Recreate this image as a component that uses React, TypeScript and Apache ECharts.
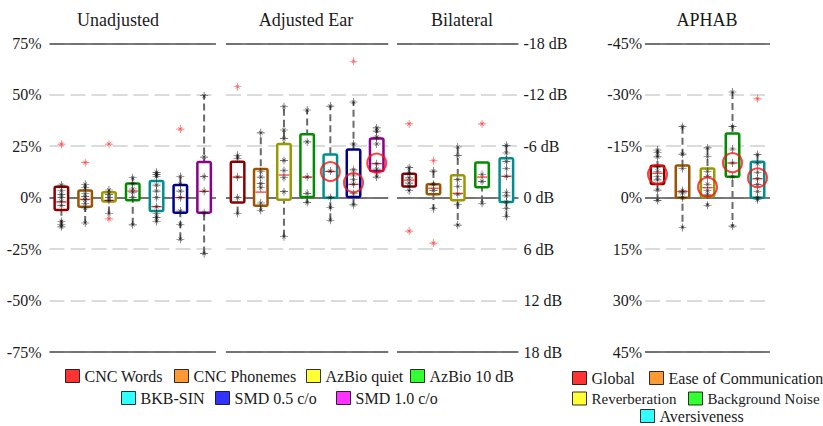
import React, { useEffect, useRef } from 'react';
import * as echarts from 'echarts';

const FONT = 'Liberation Serif';

// ---------- categories ----------
const speechNames = ['CNC Words', 'CNC Phonemes', 'AzBio quiet', 'AzBio 10 dB', 'BKB-SIN', 'SMD 0.5 c/o', 'SMD 1.0 c/o'];
const bilateralNames = ['CNC Words', 'CNC Phonemes', 'AzBio quiet', 'AzBio 10 dB', 'BKB-SIN'];
const aphabNames = ['Global', 'Ease of Communication', 'Reverberation', 'Background Noise', 'Aversiveness'];
const panelTitles = ['Unadjusted', 'Adjusted Ear', 'Bilateral', 'APHAB'];

const legendColors = ['#ff0000', '#ff8000', '#ffff00', '#00ff00', '#00ffff', '#0000ff', '#ff00ff'];
const boxColors = ['#8e0000', '#9c5400', '#999900', '#008c00', '#008f8f', '#00008c', '#8c008c'];

// ---------- axis ranges ----------
const pctMin = -75, pctMax = 75, pctStep = 25;
const dbMin = -18, dbMax = 18, dbStep = 6;
const aphabMin = -45, aphabMax = 45, aphabStep = 15;

// ---------- Unadjusted (% change) : [min, q1, median, q3, max] ----------
const unadjStats = [
  [-14.2, -6, -2.1, 5.3, 6.1],
  [-12.3, -4.4, -0.8, 3.5, 6.5],
  [-7.7, -1.9, -1.3, 2.6, 3.7],
  [-13.2, -1.3, 3.2, 6.9, 9.7],
  [-11.6, -6.5, -4.4, 8.1, 12.3],
  [-20.2, -7.3, 0, 6.1, 10.3],
  [-27.1, -7.3, 3.1, 17.3, 49.5],
];
const unadjPoints = [
  [6.1, 3.5, 1.6, 0, -1.9, -3.9, -11.6, -12.9, -14.2],
  [6.5, 4.8, 1.9, 0.5, -1.1, -2.7, -5, -12.3],
  [3.7, 1.6, 0, -1.3, -7.7],
  [9.7, 6.8, 4.2, 2.6, 0, -13.2],
  [12.3, 11.3, 10.3, 6.1, 3.2, 0, -4.4, -7.7, -9.7, -11.6],
  [10.3, 6.5, 3.2, 0, -6.5, -12.9, -20.2],
  [49.5, 19.7, 10.2, 3.1, -7.3, -27.1],
];
const unadjOutliers = [[26], [17], [26, -10.3], [], [], [33.3], []];
const unadjMeans: (number | null)[] = [null, null, null, null, null, null, null];

// ---------- Adjusted Ear (% change) ----------
const adjStats = [
  [-7.7, -2.3, 10, 17.4, 20.6],
  [-6.1, -3.9, 2.7, 13.9, 31.5],
  [-19, -1, 11, 26.1, 44.2],
  [-2.4, 0.3, 10, 30.8, 42.6],
  [-11, 0, 12.7, 21, 44.5],
  [-3.5, 0.3, 6.5, 23.4, 46.5],
  [10, 12.9, 16.5, 28.7, 33.9],
];
const adjPoints = [
  [20.6, 19, 10, 0, -7.7],
  [31.5, 12.6, 10, 6.8, 4.8, -2.6, -6.1],
  [44.2, 32.9, 28.7, 18.1, 13.2, 9.7, 2.9, -19],
  [42.6, 27.1, 10, 2.1, -2.4],
  [44.5, 12.9, 0, -4.8, -11],
  [46.5, 26.1, 13.5, 11, 8.7, 6.5, 1.9, -3.5],
  [33.9, 32.3, 29.4, 26.1, 16.5, 13.9, 10],
];
const adjOutliers = [[53.9], [], [], [], [], [66.3], []];
const adjMeans: (number | null)[] = [null, null, null, null, 12.7, 7.3, 16.8];

// ---------- Bilateral (dB) ----------
const bilStats = [
  [-3.5, -2.8, -2.05, -1.3, -0.8],
  [-3.1, -1.55, -1.1, -0.4, 1.3],
  [-5.9, -2.6, -0.5, 0.3, 3.2],
  [-4.1, -4.1, -2.4, -1.2, 0.66],
  [-6.1, -4.6, -2.5, 0.5, 2.2],
];
const bilPoints = [
  [-3.5, -2.8, -2.3, -1.7, -1.3, -0.8],
  [-3.1, -1.55, -0.85, 1.3],
  [-5.9, -4.9, -2.1, -1.3, -0.4, 0.8, 3.2],
  [-2.7, -1.9, 0.66],
  [-6.1, -5.2, -4.2, -3.4, -2.5, -0.6, -0.2, 0.5, 1.3, 2.2],
];
const bilOutliers = [[-8.6, 3.9], [-4.3, 5.3], [], [-8.6], []];
const bilMeans: (number | null)[] = [null, null, null, null, null];

// ---------- APHAB (% change) ----------
const aphabStats = [
  [-13.9, -9.3, -7.1, -4, 0.8],
  [-20.7, -9.4, -1.8, 0, 8.7],
  [-14.5, -8.5, -2.9, -0.3, 2.2],
  [-30.8, -18.7, -10.1, -6.1, 8.3],
  [-12.6, -10.5, -5.5, 0, 0.6],
];
const aphabPoints = [
  [-13.9, -13.1, -11.9, -8.7, -7.7, -6.1, -5.2, -2.2, 0.8],
  [-20.7, -12.7, -8.5, -2.1, -1.4, 0, 8.7],
  [-14.5, -12, -7.7, -6.2, -3.9, -2.1, -1, 2.2],
  [-30.8, -20.7, -14.2, -10.1, -6.1, 8.3],
  [-12.6, -9.9, -7.4, -5.5, -3.8, -1.8, 0, 0.6],
];
const aphabOutliers = [[], [], [], [], [-28.8]];
const aphabMeans: (number | null)[] = [-6.8, null, -3.1, -10.2, -5.8];

// asterisk-like marker: long plus, short diagonals, centre dot
const STAR =
  'path://M9.3,1H10.7V19H9.3Z M1,9.3H19V10.7H1Z M6.3,5.4L14.6,13.7L13.7,14.6L5.4,6.3Z M13.7,5.4L14.6,6.3L6.3,14.6L5.4,13.7Z M8.1,8.1H11.9V11.9H8.1Z';

function flatten(lists: number[][]) {
  const out: number[][] = [];
  lists.forEach((vals, i) => vals.forEach((v) => out.push([i, v])));
  return out;
}

function buildOption() {
  const panels = [
    { names: speechNames, stats: unadjStats, points: unadjPoints, outliers: unadjOutliers, means: unadjMeans, min: pctMin, max: pctMax, step: pctStep },
    { names: speechNames, stats: adjStats, points: adjPoints, outliers: adjOutliers, means: adjMeans, min: pctMin, max: pctMax, step: pctStep },
    { names: bilateralNames, stats: bilStats, points: bilPoints, outliers: bilOutliers, means: bilMeans, min: dbMin, max: dbMax, step: dbStep },
    { names: aphabNames, stats: aphabStats, points: aphabPoints, outliers: aphabOutliers, means: aphabMeans, min: aphabMin, max: aphabMax, step: aphabStep },
  ];

  const grids = [
    { left: 49.5, top: 43.3, width: 166.5, height: 308.7 },
    { left: 226, top: 43.3, width: 162.3, height: 308.7 },
    { left: 397, top: 43.3, width: 121.5, height: 308.7 },
    { left: 645, top: 43.3, width: 125, height: 308.7 },
  ];

  const labelStyle = { fontFamily: FONT, fontSize: 16, color: '#1a1a1a' };
  const splitLine = { show: true, lineStyle: { color: '#cfcfcf', width: 1.5, type: [15, 6] as any } };

  const xAxis = panels.map((p, i) => ({
    type: 'category',
    gridIndex: i,
    data: p.names,
    boundaryGap: true,
    show: false,
  }));

  const yAxis = panels.map((p, i) => ({
    type: 'value',
    gridIndex: i,
    min: p.min,
    max: p.max,
    interval: p.step,
    inverse: i >= 2,
    position: i === 2 ? 'right' : 'left',
    axisLine: { show: false },
    axisTick: { show: false },
    splitLine,
    axisLabel: {
      show: i !== 1,
      ...labelStyle,
      margin: i === 0 ? 8 : i === 2 ? 5 : 3,
      formatter: (v: number) => (i === 2 ? `${v} dB` : `${v}%`),
    },
  }));

  const series: any[] = [];
  panels.forEach((p, pi) => {
    series.push({
      type: 'custom',
      xAxisIndex: pi,
      yAxisIndex: pi,
      z: 2,
      data: p.stats.map((s, i) => [i, ...s]),
      encode: { x: 0, y: [1, 2, 3, 4, 5] },
      renderItem: (_params: any, api: any) => {
        const ci = api.value(0);
        const lo = api.coord([ci, api.value(1)]);
        const q1 = api.coord([ci, api.value(2)]);
        const md = api.coord([ci, api.value(3)]);
        const q3 = api.coord([ci, api.value(4)]);
        const hi = api.coord([ci, api.value(5)]);
        const w = 13.5;
        const top = Math.min(q1[1], q3[1]);
        const bottom = Math.max(q1[1], q3[1]);
        return {
          type: 'group',
          children: [
            {
              type: 'line',
              shape: { x1: lo[0], y1: lo[1], x2: hi[0], y2: hi[1] },
              style: { stroke: '#6a6a6a', lineWidth: 2, lineDash: [7, 4] },
            },
            {
              type: 'rect',
              shape: { x: q1[0] - w / 2, y: top, width: w, height: bottom - top, r: 1.5 },
              style: { fill: '#ffffff', stroke: boxColors[ci], lineWidth: 2.5 },
            },
            {
              type: 'line',
              shape: { x1: md[0] - w / 2 + 1.5, y1: md[1], x2: md[0] + w / 2 - 1.5, y2: md[1] },
              style: { stroke: '#ff2a2a', lineWidth: 1.2 },
            },
          ],
        };
      },
      markLine: {
        silent: true,
        symbol: ['none', 'none'],
        label: { show: false },
        z: 1,
        lineStyle: { color: '#505050', width: 1.5, type: 'solid' },
        data: [{ yAxis: p.min }, { yAxis: 0 }, { yAxis: p.max }],
      },
    });
    series.push({
      type: 'scatter',
      xAxisIndex: pi,
      yAxisIndex: pi,
      z: 3,
      symbol: STAR,
      symbolSize: 8,
      itemStyle: { color: '#111111' },
      data: flatten(p.points),
      silent: true,
    });
    series.push({
      type: 'scatter',
      xAxisIndex: pi,
      yAxisIndex: pi,
      z: 3,
      symbol: STAR,
      symbolSize: 8,
      itemStyle: { color: '#ff2020' },
      data: flatten(p.outliers),
      silent: true,
    });
    series.push({
      type: 'scatter',
      xAxisIndex: pi,
      yAxisIndex: pi,
      z: 4,
      symbol: 'circle',
      symbolSize: 19,
      itemStyle: { color: 'rgba(0,0,0,0)', borderColor: '#ff1010', borderWidth: 2 },
      data: p.means.map((m, i) => (m === null ? null : [i, m])).filter((d) => d !== null),
      silent: true,
    });
  });

  // legend entries (one legend component each, placed as in the reference)
  const legendEntries = [
    { name: speechNames[0], color: legendColors[0], left: 65, cy: 376, fs: 16 },
    { name: speechNames[1], color: legendColors[1], left: 174, cy: 376, fs: 16 },
    { name: speechNames[2], color: legendColors[2], left: 306, cy: 376, fs: 16 },
    { name: speechNames[3], color: legendColors[3], left: 410, cy: 376, fs: 16 },
    { name: speechNames[4], color: legendColors[4], left: 121, cy: 398, fs: 16 },
    { name: speechNames[5], color: legendColors[5], left: 215, cy: 398, fs: 16 },
    { name: speechNames[6], color: legendColors[6], left: 336, cy: 398, fs: 16 },
    { name: aphabNames[0], color: legendColors[0], left: 572, cy: 378, fs: 16 },
    { name: aphabNames[1], color: legendColors[1], left: 649, cy: 378, fs: 16 },
    { name: aphabNames[2], color: legendColors[2], left: 572, cy: 399, fs: 15 },
    { name: aphabNames[3], color: legendColors[3], left: 688, cy: 399, fs: 15 },
    { name: aphabNames[4], color: legendColors[4], left: 640, cy: 416, fs: 16 },
  ];
  legendEntries.forEach((e) => {
    series.push({
      type: 'scatter',
      name: e.name,
      xAxisIndex: 0,
      yAxisIndex: 0,
      data: [],
      itemStyle: { color: e.color },
    });
  });
  const legend = legendEntries.map((e) => ({
    show: true,
    left: e.left,
    top: e.cy - 8,
    padding: 0,
    itemWidth: 14,
    itemHeight: 13,
    selectedMode: false,
    textStyle: { fontFamily: FONT, fontSize: e.fs, color: '#1a1a1a' },
    data: [{ name: e.name, icon: 'rect', itemStyle: { color: e.color, borderColor: '#000', borderWidth: 1 } }],
  }));

  const titleX = [118, 306, 462, 707];
  const graphic = panelTitles.map((t, i) => ({
    type: 'text',
    x: titleX[i],
    y: 20,
    style: {
      text: t,
      align: 'center',
      verticalAlign: 'middle',
      fontFamily: FONT,
      fontSize: 18,
      fill: '#1a1a1a',
    },
  }));

  return {
    animation: false,
    backgroundColor: '#ffffff',
    textStyle: { fontFamily: FONT },
    grid: grids,
    xAxis,
    yAxis,
    series,
    legend,
    graphic,
  };
}

export default function App() {
  const ref = useRef<HTMLDivElement>(null);
  useEffect(() => {
    if (!ref.current) return;
    const chart = echarts.init(ref.current, null, { renderer: 'svg' });
    chart.setOption(buildOption() as any);
    return () => chart.dispose();
  }, []);
  return (
    <div
      ref={ref}
      style={{ position: 'fixed', left: 0, top: 0, width: 823, height: 426, background: '#ffffff' }}
    />
  );
}
